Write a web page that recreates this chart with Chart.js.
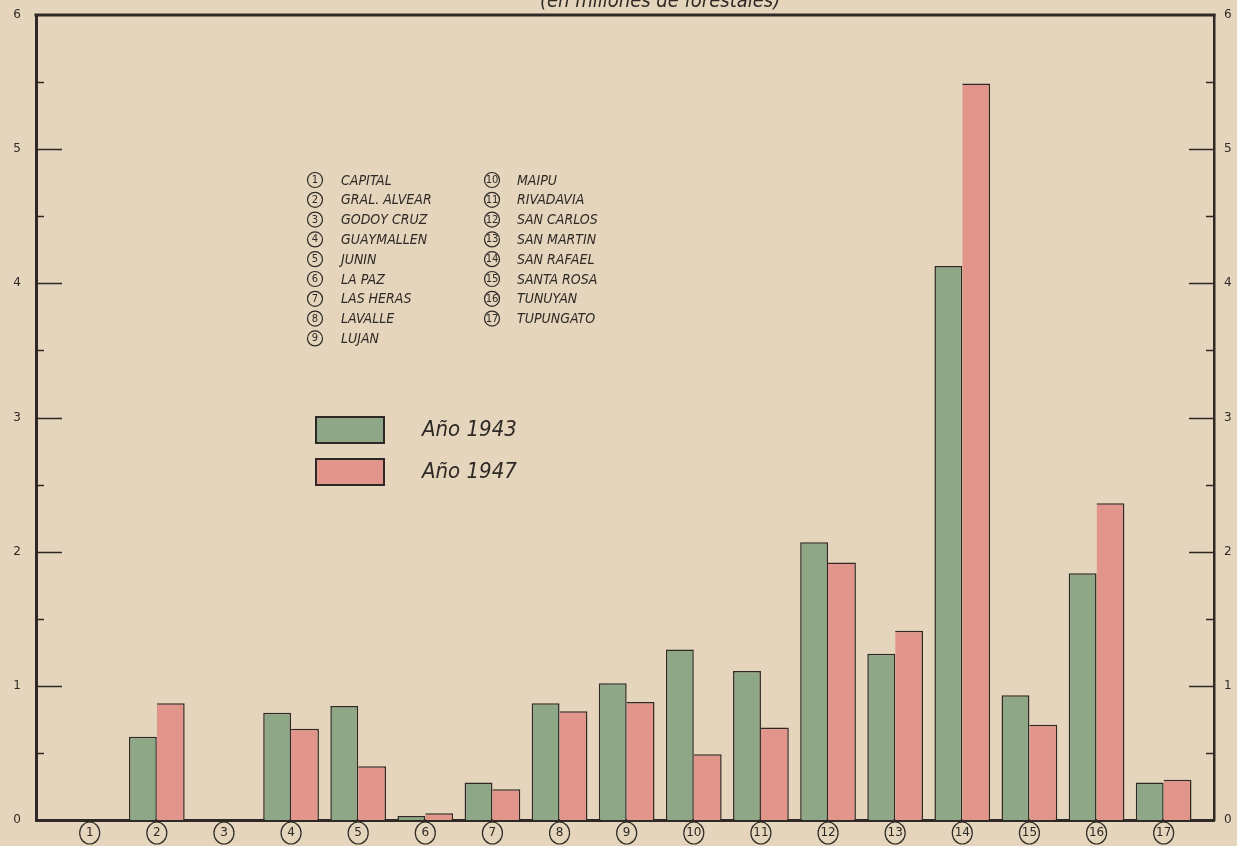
<!DOCTYPE html>
<html>
<head>
<meta charset="utf-8">
<script src="https://cdn.jsdelivr.net/npm/chart.js@4/dist/chart.umd.min.js"></script>
<style>
html,body{margin:0;padding:0;background:#e5d4bb;}
#wrap{width:1237px;height:846px;position:relative;}
</style>
</head>
<body>
<div id="wrap"><canvas id="c" width="1237" height="846"></canvas></div>
<script>
// ---- data ----
const categories = [1,2,3,4,5,6,7,8,9,10,11,12,13,14,15,16,17];
const tickLabels = ['1','2','3','4','5','6','7','8','9','10','11','12','13','14','15','16','17'];
const districts = ['CAPITAL','GRAL. ALVEAR','GODOY CRUZ','GUAYMALLEN','JUNIN','LA PAZ','LAS HERAS','LAVALLE','LUJAN',
  'MAIPU','RIVADAVIA','SAN CARLOS','SAN MARTIN','SAN RAFAEL','SANTA ROSA','TUNUYAN','TUPUNGATO'];
const seriesNames = ['Año 1943','Año 1947'];
const values1943 = [null,0.62,null,0.80,0.85,0.03,0.28,0.87,1.02,1.27,1.11,2.07,1.24,4.13,0.93,1.84,0.28];
const values1947 = [null,0.87,null,0.68,0.40,0.05,0.23,0.81,0.88,0.49,0.69,1.92,1.41,5.49,0.71,2.36,0.30];
const yTicks = [0,1,2,3,4,5,6];
const titleText = '(en millones de forestales)';

const INK = '#2e2924';
const GREEN = '#8ea787';
const PINK = '#e2958a';
const PAPER = '#e5d5bd';

const paperPlugin = {
  id:'paper',
  beforeDraw(chart){
    const ctx = chart.ctx;
    ctx.save();
    ctx.fillStyle = PAPER;
    ctx.fillRect(0,0,chart.width,chart.height);
    ctx.restore();
  }
};

const decoPlugin = {
  id:'deco',
  afterDraw(chart){
    const ctx = chart.ctx;
    const a = chart.chartArea;
    const y = chart.scales.y;
    const x = chart.scales.x;
    ctx.save();
    // top frame line
    ctx.strokeStyle = INK;
    ctx.lineWidth = 3;
    ctx.beginPath();
    ctx.moveTo(a.left-1.5, a.top);
    ctx.lineTo(a.right+1.5, a.top);
    ctx.stroke();
    // inward ticks
    ctx.lineWidth = 1.5;
    for (let v = 0.5; v < 6; v += 0.5) {
      const py = Math.round(y.getPixelForValue(v)) + 0.5;
      const major = Number.isInteger(v);
      ctx.beginPath();
      ctx.moveTo(a.left, py); ctx.lineTo(a.left + (major ? 26 : 8), py);
      ctx.moveTo(a.right, py); ctx.lineTo(a.right - (major ? 25 : 8), py);
      ctx.stroke();
    }
    // circles around x tick labels
    ctx.lineWidth = 1.2;
    categories.forEach(c => {
      const px = x.getPixelForValue(c);
      ctx.beginPath();
      ctx.ellipse(px, 833, 10, 11, 0, 0, Math.PI*2);
      ctx.stroke();
    });
    // title (cut off at top)
    ctx.fillStyle = INK;
    ctx.font = 'italic 20px "DejaVu Sans Condensed", "DejaVu Sans"';
    ctx.textAlign = 'left';
    ctx.textBaseline = 'alphabetic';
    ctx.fillText(titleText, 540, 7);
    // district list
    const rowH = 19.8;
    districts.forEach((d, i) => {
      const col = i < 9 ? 0 : 1;
      const row = col === 0 ? i : i - 9;
      const cx = col === 0 ? 315 : 492;
      const tx = col === 0 ? 341 : 517;
      const cy = 180 + row * rowH;
      ctx.lineWidth = 1.2;
      ctx.beginPath();
      ctx.arc(cx, cy, 7.5, 0, Math.PI*2);
      ctx.stroke();
      ctx.font = '10px "DejaVu Sans"';
      ctx.textAlign = 'center';
      ctx.textBaseline = 'middle';
      ctx.fillText(String(i+1), cx, cy+0.5);
      ctx.font = 'italic 14px "DejaVu Sans Condensed", "DejaVu Sans"';
      ctx.textAlign = 'left';
      ctx.fillText(d, tx, cy + 1);
    });
    // series legend
    const boxes = [[GREEN, 417], [PINK, 459]];
    boxes.forEach((b, i) => {
      ctx.fillStyle = b[0];
      ctx.fillRect(316, b[1], 68, 26);
      ctx.strokeStyle = INK;
      ctx.lineWidth = 2;
      ctx.strokeRect(316, b[1], 68, 26);
      ctx.fillStyle = INK;
      ctx.font = 'italic 22px "DejaVu Sans Condensed", "DejaVu Sans"';
      ctx.textAlign = 'left';
      ctx.textBaseline = 'middle';
      ctx.fillText(seriesNames[i], 422, b[1] + 13);
    });
    ctx.restore();
  }
};

const mk = (vals) => categories.map((c, i) => ({x: c, y: vals[i]}));
const noPad = (s) => { s.paddingTop = 0; s.paddingBottom = 0; };

new Chart(document.getElementById('c'), {
  type: 'bar',
  data: {
    datasets: [
      {label: seriesNames[0], data: mk(values1943), backgroundColor: GREEN, borderColor: INK,
       borderWidth: {left: 1.5, top: 1.5, right: 1.5, bottom: 0}, borderSkipped: false,
       categoryPercentage: 0.83, barPercentage: 1, yAxisID: 'y'},
      {label: seriesNames[1], data: mk(values1947), backgroundColor: PINK, borderColor: INK,
       borderWidth: {left: 0, top: 1.5, right: 1.5, bottom: 0}, borderSkipped: false,
       categoryPercentage: 0.83, barPercentage: 1, yAxisID: 'y'}
    ]
  },
  options: {
    responsive: false,
    animation: false,
    devicePixelRatio: 1,
    layout: {padding: {top: 15, left: 0, right: 0, bottom: 0}},
    plugins: {legend: {display: false}, tooltip: {enabled: false}, title: {display: false}},
    scales: {
      x: {
        type: 'linear', min: 0.2, max: 17.75, offset: false,
        grid: {display: false, drawTicks: false},
        border: {display: true, color: INK, width: 3},
        afterBuildTicks: (s) => { s.ticks = categories.map(c => ({value: c})); },
        ticks: {autoSkip: false, maxRotation: 0, padding: 6, color: INK,
          font: {size: 12, family: '"DejaVu Sans"'},
          callback: (v) => tickLabels[v - 1]},
        afterFit: (s) => { s.height = 26; }
      },
      y: {
        position: 'left', min: 0, max: 6,
        grid: {display: false, drawTicks: false},
        border: {display: true, color: INK, width: 3},
        afterBuildTicks: (s) => { s.ticks = yTicks.map(v => ({value: v})); },
        ticks: {padding: 15, color: INK, font: {size: 12, family: '"DejaVu Sans"'}},
        afterFit: (s) => { s.width = 36; noPad(s); }
      },
      y2: {
        position: 'right', min: 0, max: 6,
        grid: {display: false, drawTicks: false},
        border: {display: true, color: INK, width: 2.5},
        afterBuildTicks: (s) => { s.ticks = yTicks.map(v => ({value: v})); },
        ticks: {padding: 10, color: INK, font: {size: 12, family: '"DejaVu Sans"'}},
        afterFit: (s) => { s.width = 23; noPad(s); }
      }
    }
  },
  plugins: [paperPlugin, decoPlugin]
});
</script>
</body>
</html>
